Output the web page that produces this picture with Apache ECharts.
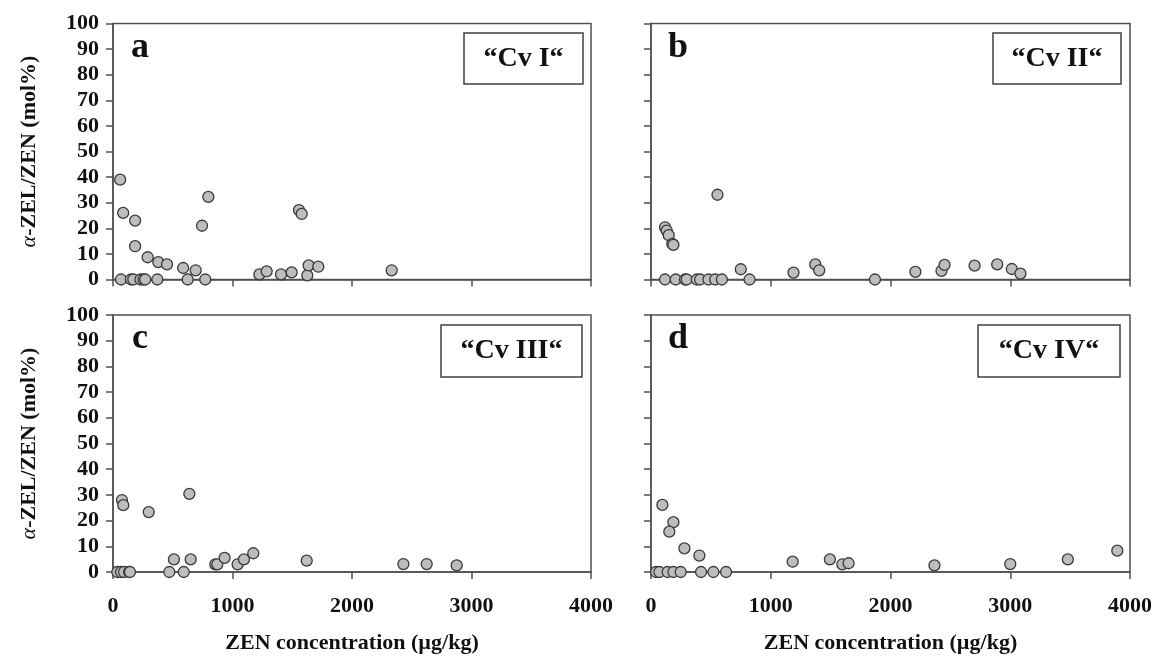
<!DOCTYPE html>
<html><head><meta charset="utf-8">
<script src="https://cdn.jsdelivr.net/npm/echarts@6/dist/echarts.min.js"></script>
<style>html,body{margin:0;padding:0;background:#fff}#c{width:1160px;height:668px}</style>
</head><body><div id="c"></div>
<script>
// Panel labels
const panelLetters = ['a', 'b', 'c', 'd'];
const cultivars = ['\u201CCv I\u201C', '\u201CCv II\u201C', '\u201CCv III\u201C', '\u201CCv IV\u201C'];
const xTicks = [0, 1000, 2000, 3000, 4000];
const yTicks = [0, 10, 20, 30, 40, 50, 60, 70, 80, 90, 100];

// [ZEN concentration (µg/kg), α-ZEL/ZEN (mol%)]
const cvI = [
  [60,39],[85,26],[185,23],[185,13],[290,8.7],[379,6.8],[452,5.9],[587,4.5],[692,3.6],[745,21],[798,32.3],
  [67,0],[150,0],[170,0],[230,0],[255,0],[270,0],[371,0],[625,0],[772,0],
  [1225,2.0],[1286,3.2],[1406,2.0],[1495,2.8],[1556,27.1],[1579,25.6],[1626,1.6],[1637,5.5],[1718,5.0],[2332,3.6]
];
const cvII = [
  [117,20.4],[131,19.1],[148,17.3],[178,13.9],[187,13.5],[555,33.1],[750,4.0],[1190,2.7],[1372,5.9],[1405,3.6],
  [117,0],[206,0],[284,0],[298,0],[382,0],[410,0],[480,0],[536,0],[592,0],[823,0],[1870,0],
  [2208,3.0],[2426,3.4],[2451,5.7],[2702,5.4],[2891,5.9],[3013,4.1],[3085,2.3]
];
const cvIII = [
  [75,28.0],[86,26.0],[299,23.3],[639,30.4],[510,4.9],[650,4.9],[471,0],[592,0],
  [856,3.0],[873,3.0],[934,5.5],[1043,3.0],[1096,4.9],[1174,7.3],[1621,4.4],
  [36,0],[67,0],[92,0],[134,0],[142,0],
  [2430,3.1],[2625,3.1],[2876,2.6]
];
const cvIV = [
  [95,26.1],[187,19.4],[153,15.7],[279,9.2],[404,6.4],
  [42,0],[70,0],[139,0],[187,0],[248,0],[418,0],[521,0],[627,0],
  [1183,4.0],[1494,4.9],[1598,3.0],[1650,3.4],[2367,2.6],[3000,3.1],[3481,4.9],[3894,8.3]
];
const seriesData = [cvI, cvII, cvIII, cvIV];

const FONT = 'Liberation Serif';
const AX = '#505050';
const grids = [
  {left:113, top:23.5, width:478, height:256},
  {left:651, top:23.5, width:479, height:256},
  {left:113, top:315, width:478, height:257},
  {left:651, top:315, width:479, height:257}
];
const boxes = [
  {x:464, y:33, w:119, h:51},
  {x:993, y:33, w:128, h:51},
  {x:441, y:325, w:141, h:52},
  {x:978, y:325, w:142, h:52}
];
const letterPos = [[140,66],[678,66],[140,357],[678,357]];

const chart = echarts.init(document.getElementById('c'));
const option = {
  animation:false,
  backgroundColor:'#fff',
  grid: grids.map(g => Object.assign({show:true, borderColor:AX, borderWidth:1.5, backgroundColor:'transparent'}, g)),
  xAxis: grids.map((g,i) => ({
    gridIndex:i, type:'value', min:xTicks[0], max:xTicks[xTicks.length-1], interval:1000,
    axisLine:{show:true, onZero:false, lineStyle:{color:AX, width:1.5}},
    axisTick:{show:true, length:7, lineStyle:{color:AX, width:1.5}},
    splitLine:{show:false},
    axisLabel:{show:i>=2, margin:23, color:'#111', fontFamily:FONT, fontWeight:'bold', fontSize:22,
      formatter: v => String(v)},
    name: i>=2 ? 'ZEN concentration (\u00B5g/kg)' : '',
    nameLocation:'middle', nameGap:60,
    nameTextStyle:{color:'#111', fontFamily:FONT, fontWeight:'bold', fontSize:22}
  })),
  yAxis: grids.map((g,i) => ({
    gridIndex:i, type:'value', min:yTicks[0], max:yTicks[yTicks.length-1], interval:10,
    axisLine:{show:true, onZero:false, lineStyle:{color:AX, width:1.5}},
    axisTick:{show:true, length:7, lineStyle:{color:AX, width:1.5}},
    splitLine:{show:false},
    axisLabel:{show:i%2===0, margin:14, color:'#111', fontFamily:FONT, fontWeight:'bold', fontSize:22,
      formatter: v => String(v)},
    name: i%2===0 ? '{i|\u03B1}-ZEL/ZEN (mol%)' : '',
    nameLocation:'middle', nameGap:73, nameRotate:90,
    nameTextStyle:{color:'#111', fontFamily:FONT, fontWeight:'bold', fontSize:22,
      rich:{i:{fontFamily:FONT, fontStyle:'italic', fontWeight:'normal', fontSize:22, color:'#111'}}}
  })),
  series: seriesData.map((d,i) => ({
    type:'scatter', xAxisIndex:i, yAxisIndex:i, data:d,
    symbol:'circle', symbolSize:11,
    itemStyle:{color:'#bdbdbd', borderColor:'#3a3a3a', borderWidth:1.3, opacity:1}
  })),
  graphic: [].concat(
    boxes.map((b,i) => ({
      type:'group', children:[
        {type:'rect', shape:{x:b.x, y:b.y, width:b.w, height:b.h}, style:{fill:'#fff', stroke:'#404040', lineWidth:1.5}},
        {type:'text', x:b.x+b.w/2, y:b.y+b.h/2, style:{text:cultivars[i], fill:'#111', font:'bold 28px "Liberation Serif"', align:'center', verticalAlign:'middle'}}
      ]
    })),
    letterPos.map((p,i) => ({
      type:'text', x:p[0], y:p[1], style:{text:panelLetters[i], fill:'#111', font:'bold 36px "Liberation Serif"', align:'center', verticalAlign:'bottom'}
    }))
  )
};
chart.setOption(option);
</script></body></html>
